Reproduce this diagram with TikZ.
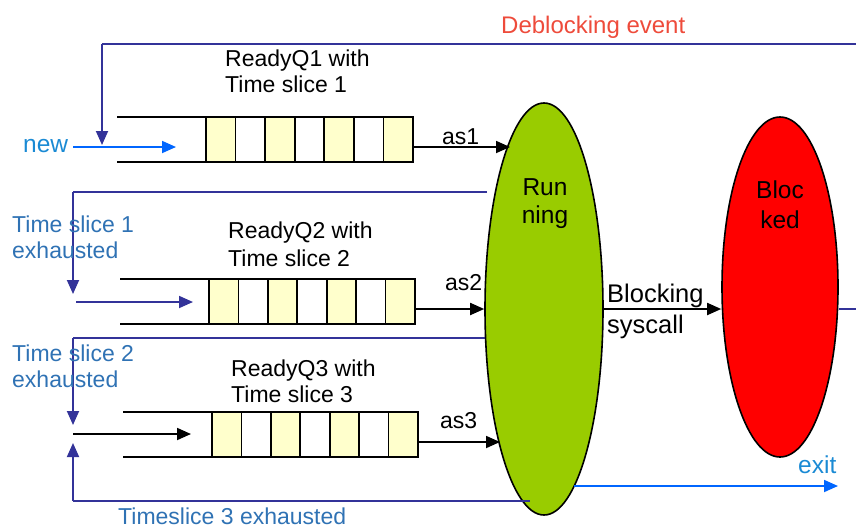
\documentclass[tikz,border=0pt]{standalone}
\usepackage{fontspec}
\setmainfont{Liberation Sans}
\usetikzlibrary{arrows.meta,shapes.geometric}
\definecolor{dkblue}{HTML}{333399}
\definecolor{brblue}{HTML}{0066FF}
\definecolor{lblue}{HTML}{1A8AD4}
\definecolor{sblue}{HTML}{2F72B4}
\definecolor{redtxt}{HTML}{EE4B3B}
\definecolor{cellyel}{HTML}{FFFFCC}
\definecolor{rungreen}{HTML}{99CC00}
\newcommand\drawqueue[5]{% name, left x, cells start x, cells end x, top y
  \draw[rail] (#2,#5) -- (#3,#5);
  \draw[rail] (#2,#5+45) -- (#3,#5+45);
  \pgfmathsetmacro\cw{(#4-#3)/7}
  \foreach \k in {0,...,6}{
    \pgfmathsetmacro\xa{#3+\k*\cw}
    \pgfmathsetmacro\xb{#3+(\k+1)*\cw}
    \pgfmathtruncatemacro\odd{mod(\k,2)}
    \ifnum\odd=0 \def\cf{cellyel}\else\def\cf{white}\fi
    \draw[rail, fill=\cf] (\xa,#5) rectangle (\xb,#5+45);
  }
  \node[inner sep=0pt, outer sep=0pt, minimum width={#4-#3}, minimum height=45pt] (#1) at ({(#3+#4)/2},#5+22.5) {};
}
\begin{document}
\begin{tikzpicture}[x=1pt,y=-1pt,
  txt/.style={font=\fontsize{23}{26}\selectfont, inner sep=0pt, anchor=base west},
  bigtxt/.style={txt, font=\fontsize{24.5}{28}\selectfont},
  midtxt/.style={txt, font=\fontsize{24}{28}\selectfont},
  ctxt/.style={bigtxt, anchor=base},
  rail/.style={draw=black, line width=1.8pt},
  tip/.style={-{Triangle[length=14pt,width=12pt]}},
  blkarr/.style={draw=black, line width=1.8pt, tip},
  dkb/.style={draw=dkblue, line width=1.8pt},
  dkarr/.style={dkb, tip},
  brarr/.style={draw=brblue, line width=1.8pt, tip},
  state/.style={ellipse, draw=black, line width=1.6pt, inner sep=0pt}
]
\useasboundingbox (0,0) rectangle (856,528);
\clip (0,0) rectangle (856,528);

% queues
\drawqueue{q1}{117}{206}{413}{117}
\drawqueue{q2}{120}{209}{415}{279}
\drawqueue{q3}{123}{212}{418}{412}

% coordinates
\coordinate (newS) at (73,147);
\coordinate (newE) at (176,147);
\coordinate (q2inS) at (76,302);
\coordinate (q2inE) at (193,302);
\coordinate (q3inS) at (73,434);
\coordinate (q3inE) at (191,434);
\coordinate (as1S) at (413,147);
\coordinate (as1E) at (510,147);
\coordinate (as2S) at (415,309);
\coordinate (as3S) at (418,442);
\coordinate (as3E) at (500,442);
\coordinate (ts1S) at (487,192);
\coordinate (ts1C) at (73,192);
\coordinate (ts1E) at (73,294);
\coordinate (ts2S) at (487,338);
\coordinate (ts2C) at (73,338);
\coordinate (ts2E) at (73,425);
\coordinate (ts3S) at (530,501);
\coordinate (ts3C) at (73,501);
\coordinate (ts3E) at (73,443);
\coordinate (exS) at (574,486);
\coordinate (exE) at (838,486);
\coordinate (dbA) at (880,309);
\coordinate (dbB) at (880,44);
\coordinate (dbC) at (102,44);
\coordinate (dbE) at (102,145);

% lines behind the states
\draw[dkb] (ts1S) -- (ts1C);
\draw[dkarr] (ts1C) -- (ts1E);
\draw[dkb] (ts2S) -- (ts2C);
\draw[dkarr] (ts2C) -- (ts2E);

% states
\node[state, fill=rungreen, minimum width=118pt, minimum height=412pt] (run) at (544,309) {};
\node[state, fill=red, minimum width=116pt, minimum height=340pt] (blk) at (780,287) {};

% connectors
\draw[brarr] (newS) -- (newE);
\draw[dkarr] (q2inS) -- (q2inE);
\draw[blkarr] (q3inS) -- (q3inE);
\draw[blkarr] (as1S) -- (as1E);
\draw[blkarr] (as2S) -- (run.west);
\draw[blkarr] (as3S) -- (as3E);
\draw[blkarr] (run.east) -- (blk.west |- run.east);
\draw[dkb] (ts3S) -- (ts3C);
\draw[dkarr] (ts3C) -- (ts3E);
\draw[brarr] (exS) -- (exE);
\draw[dkb] (blk.east |- run.east) -- (dbA) -- (dbB) -- (dbC);
\draw[dkarr] (dbC) -- (dbE);

% texts
\node[midtxt, text=redtxt] (tdb) at (501,33) {Deblocking event};
\node[txt] (tq1a) at (225,66) {ReadyQ1 with};
\node[txt] (tq1b) at (225,92) {Time slice 1};
\node[txt] (tq2a) at (228,238) {ReadyQ2 with};
\node[txt] (tq2b) at (228,266) {Time slice 2};
\node[txt] (tq3a) at (231,376) {ReadyQ3 with};
\node[txt] (tq3b) at (231,402) {Time slice 3};
\node[bigtxt, text=lblue] (tnew) at (23,152) {new};
\node[bigtxt, text=lblue] (texit) at (798,473) {exit};
\node[txt, text=sblue] (tts1a) at (12,232) {Time slice 1};
\node[txt, text=sblue] (tts1b) at (12,258) {exhausted};
\node[txt, text=sblue] (tts2a) at (12,361) {Time slice 2};
\node[txt, text=sblue] (tts2b) at (12,387) {exhausted};
\node[txt, text=sblue] (tts3) at (118,524) {Timeslice 3 exhausted};
\node[txt] (tas1) at (442,144) {as1};
\node[txt] (tas2) at (445,290) {as2};
\node[txt] (tas3) at (440,428) {as3};
\node[bigtxt, font=\fontsize{25.5}{28}\selectfont] (tbs1) at (607,302) {Blocking};
\node[bigtxt, font=\fontsize{25.5}{28}\selectfont] (tbs2) at (607,333) {syscall};
\node[ctxt] (trun1) at (545,195) {Run};
\node[ctxt] (trun2) at (545,223) {ning};
\node[ctxt] (tblk1) at (780,198) {Bloc};
\node[ctxt] (tblk2) at (780,228) {ked};
\end{tikzpicture}
\end{document}
